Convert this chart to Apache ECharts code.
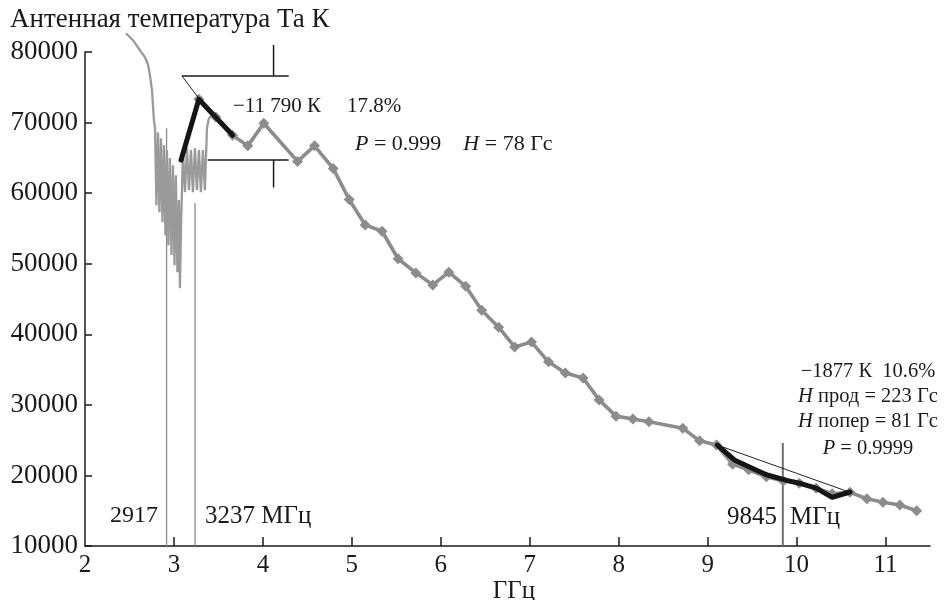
<!DOCTYPE html>
<html><head><meta charset="utf-8">
<script src="https://cdn.jsdelivr.net/npm/echarts@6/dist/echarts.min.js"></script>
<style>html,body{margin:0;padding:0;background:#fff}#c{width:949px;height:600px}</style>
</head><body><div id="c"></div>
<script>
// Raw swept-frequency trace (GHz, K)
const rawFreq = [2.461,2.539,2.618,2.674,2.708,2.730,2.753,2.764,2.775,2.787,2.803,2.820,2.837,2.854,2.871,2.888,2.904,2.921,2.938,2.955,2.972,2.989,3.006,3.022,3.039,3.056,3.067,3.079,3.101,3.124,3.146,3.169,3.191,3.213,3.236,3.258,3.281,3.303,3.326,3.348,3.371,3.393,3.427,3.483,3.573,3.663];
const rawTemp = [82660,81670,80250,79260,78270,76710,74590,72460,70340,69200,58300,68640,57310,67790,55890,66800,54050,66090,52630,64960,51220,63960,49800,62550,48810,59010,46540,54760,66090,60140,66370,60420,66090,60140,66370,60420,66090,60140,66090,60420,69200,70620,71050,70620,69490,68210];
// Point measurements (diamonds)
const ptFreq = [3.28,3.47,3.66,3.83,4.01,4.39,4.58,4.79,4.97,5.15,5.34,5.52,5.72,5.91,6.09,6.28,6.46,6.65,6.83,7.02,7.21,7.40,7.60,7.78,7.97,8.16,8.34,8.72,8.91,9.10,9.28,9.46,9.66,9.85,10.03,10.22,10.40,10.60,10.79,10.97,11.16,11.35];
const ptTemp = [73300,70800,68200,66700,69900,64500,66700,63500,59100,55500,54600,50700,48700,47000,48800,46800,43400,41000,38200,38900,36100,34500,33800,30700,28400,28000,27600,26700,24900,24300,21600,20800,19800,19200,18900,18200,17400,17600,16700,16200,15800,15000];
// Black fitted resonance curves
const fitLowFreq = [3.08,3.28,3.66];
const fitLowTemp = [64700,73300,68200];
const fitHighFreq = [9.11,9.21,9.30,9.47,9.66,9.89,10.03,10.22,10.40,10.60];
const fitHighTemp = [24300,23200,22200,21200,20100,19300,18900,18200,16900,17650];
// Thin chord lines
const chordLowFreq = [3.09,3.27];
const chordLowTemp = [76600,73600];
const chordHighFreq = [9.11,10.58];
const chordHighTemp = [24300,17700];
// Bracket annotation (upper and lower arms)
const brUpFreq = [3.09,4.29];
const brUpTemp = [76600,76600];
const brUpTickTemp = [81000,76600];
const brLowFreq = [3.38,4.29];
const brLowTemp = [64700,64700];
const brLowTickTemp = [64700,60800];
const brTickFreq = 4.12;
// Resonance frequency markers (GHz) and their top ends
const resFreq = [2.917,3.237,9.845];
const resTop = [69200,58600,24600];
// Axis ticks
const xTicks = [2,3,4,5,6,7,8,9,10,11];
const yTicks = [10000,20000,30000,40000,50000,60000,70000,80000];

const zip = (a,b)=>a.map((v,i)=>[v,b[i]]);
const FONT = '"Liberation Serif","DejaVu Serif",serif';
const chart = echarts.init(document.getElementById('c'));

const series = [];
resFreq.forEach((f,i)=>{
  series.push({type:'line',data:[[f,10000],[f,resTop[i]]],symbol:'none',silent:true,
    lineStyle:{color:i===2?'#6e6e6e':'#8a8a8a',width:i===2?2:1.3},z:1});
});
series.push({type:'line',data:zip(rawFreq,rawTemp),symbol:'none',clip:false,
  lineStyle:{color:'#9a9a9a',width:2.3},z:2});
series.push({type:'line',data:zip(ptFreq,ptTemp),symbol:'diamond',symbolSize:11,
  itemStyle:{color:'#8c8c8c'},lineStyle:{color:'#8c8c8c',width:3.6},z:3});
series.push({type:'line',data:zip(fitLowFreq,fitLowTemp),symbol:'none',
  lineStyle:{color:'#151515',width:5,cap:'round',join:'round'},z:5});
series.push({type:'line',data:zip(fitHighFreq,fitHighTemp),symbol:'none',
  lineStyle:{color:'#151515',width:5,cap:'round',join:'round'},z:5});
[[chordLowFreq,chordLowTemp],[chordHighFreq,chordHighTemp]].forEach(p=>{
  series.push({type:'line',data:zip(p[0],p[1]),symbol:'none',lineStyle:{color:'#222',width:1},z:6});
});
[[brUpFreq,brUpTemp],[brLowFreq,brLowTemp],[[brTickFreq,brTickFreq],brUpTickTemp],[[brTickFreq,brTickFreq],brLowTickTemp]].forEach(p=>{
  series.push({type:'line',data:zip(p[0],p[1]),symbol:'none',clip:false,lineStyle:{color:'#1a1a1a',width:1.5},z:6});
});

const txt = (x,y,text,size,align)=>({type:'text',x:x,y:y,z:10,
  style:{text:text,font:size+'px '+FONT,fill:'#1a1a1a',textAlign:align||'left',textVerticalAlign:'middle',
    rich:{i:{fontStyle:'italic',fontSize:size,fontFamily:FONT,fill:'#1a1a1a'}}}});

chart.setOption({
  animation:false,
  backgroundColor:'#fff',
  grid:{left:85,right:19,top:52,bottom:54,containLabel:false,outerBoundsMode:'none'},
  xAxis:{type:'value',min:2,max:11.5,interval:1,
    name:'ГГц',nameLocation:'middle',nameGap:33,nameMoveOverlap:false,
    nameTextStyle:{fontFamily:FONT,fontSize:25,color:'#1a1a1a',padding:[0,0,0,13]},
    axisLine:{lineStyle:{color:'#1a1a1a',width:1.5}},
    axisTick:{inside:true,length:9,customValues:[3,4,5,6,7,8,9,10,11],lineStyle:{color:'#1a1a1a',width:1.5}},
    axisLabel:{customValues:xTicks,fontFamily:FONT,fontSize:25,color:'#1a1a1a',margin:7},
    splitLine:{show:false}},
  yAxis:{type:'value',min:10000,max:80000,interval:10000,
    axisLine:{show:true,lineStyle:{color:'#1a1a1a',width:1.5}},
    axisTick:{show:true,inside:true,length:7,lineStyle:{color:'#1a1a1a',width:1.5}},
    axisLabel:{fontFamily:FONT,fontSize:27,color:'#1a1a1a',margin:7,formatter:v=>String(v)},
    splitLine:{show:false}},
  series:series,
  graphic:[
    txt(10,20,'Антенная температура Та К',27),
    txt(233,106,'−11 790 К',21),
    txt(347,106,'17.8%',21),
    txt(355,144,'{i|P} = 0.999    {i|H} = 78 Гс',22),
    txt(868,372,'−1877 К  10.6%',20.5,'center'),
    txt(868,397,'{i|H} прод = 223 Гс',20.5,'center'),
    txt(868,422,'{i|H} попер = 81 Гс',20.5,'center'),
    txt(868,449,'{i|P} = 0.9999',20.5,'center'),
    txt(110,516,'2917',24),
    txt(205,516,'3237 МГц',25),
    txt(727,517,'9845',25),
    txt(790,517,'МГц',25)
  ]
});
</script></body></html>
